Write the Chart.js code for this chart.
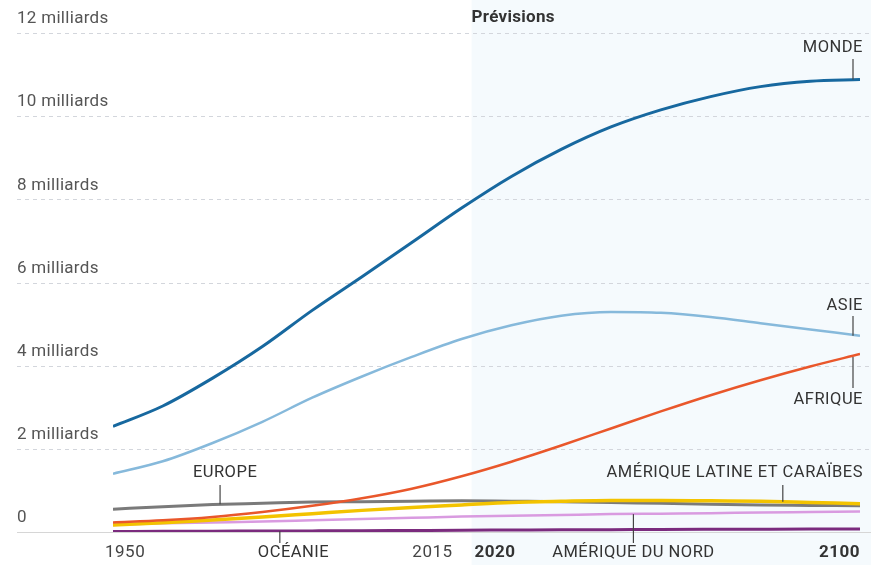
<!DOCTYPE html>
<html>
<head>
<meta charset="utf-8">
<script src="https://cdn.jsdelivr.net/npm/chart.js@4"></script>
<style>
  body { margin: 0; background: #fff; }
  canvas { display: block; }
</style>
</head>
<body>
<canvas id="popChart" width="871" height="565"></canvas>
<script>
// population in billions, every 10 years
var years = [1950, 1960, 1970, 1980, 1990, 2000, 2010, 2020, 2030, 2040, 2050, 2060, 2070, 2080, 2090, 2100];
var monde     = [2.54, 3.03, 3.70, 4.46, 5.33, 6.14, 6.96, 7.79, 8.55, 9.20, 9.74, 10.15, 10.47, 10.71, 10.84, 10.88];
var asie      = [1.40, 1.70, 2.14, 2.65, 3.23, 3.74, 4.21, 4.64, 4.97, 5.20, 5.29, 5.27, 5.17, 5.02, 4.87, 4.72];
var afrique   = [0.23, 0.28, 0.36, 0.48, 0.63, 0.81, 1.04, 1.34, 1.69, 2.08, 2.49, 2.90, 3.29, 3.65, 3.98, 4.28];
var europe    = [0.55, 0.61, 0.66, 0.69, 0.72, 0.73, 0.74, 0.75, 0.74, 0.73, 0.71, 0.69, 0.67, 0.65, 0.64, 0.63];
var ameriqueLatine = [0.17, 0.22, 0.29, 0.36, 0.44, 0.52, 0.59, 0.65, 0.71, 0.74, 0.76, 0.76, 0.75, 0.74, 0.71, 0.68];
var ameriqueNord   = [0.17, 0.21, 0.23, 0.25, 0.28, 0.31, 0.34, 0.37, 0.39, 0.41, 0.43, 0.44, 0.45, 0.47, 0.48, 0.49];
var oceanie   = [0.013, 0.016, 0.020, 0.023, 0.027, 0.031, 0.037, 0.043, 0.048, 0.053, 0.057, 0.061, 0.064, 0.067, 0.070, 0.075];

var yTicks = [0, 2, 4, 6, 8, 10, 12];
var yTickLabels = ['0', '2 milliards', '4 milliards', '6 milliards', '8 milliards', '10 milliards', '12 milliards'];
var forecastStart = 2022;

function pts(vals) {
    return years.map(function(y, i) { return {x: y, y: vals[i]}; });
}

function ds(label, vals, colour, width) {
    return {
        label: label,
        data: pts(vals),
        borderColor: colour,
        borderWidth: width,
        pointRadius: 0,
        fill: false,
        cubicInterpolationMode: 'monotone'
    };
}

var FONT = 'Roboto, "Noto Sans", sans-serif';

// shaded forecast zone, grid and all the text labels are drawn by hand
var decor = {
    id: 'decor',
    beforeDatasetsDraw: function(chart) {
        var ctx = chart.ctx, xs = chart.scales.x, ys = chart.scales.y;
        var W = chart.width, H = chart.height;
        ctx.save();
        var fx = xs.getPixelForValue(forecastStart);
        ctx.fillStyle = '#f5fafd';
        ctx.fillRect(fx, 0, W - fx, H);

        // dashed gridlines
        ctx.strokeStyle = '#d3d6dc';
        ctx.lineWidth = 1;
        ctx.setLineDash([4, 4]);
        yTicks.forEach(function(t) {
            if (t === 0) return;
            var y = Math.round(ys.getPixelForValue(t)) + 0.5;
            ctx.beginPath(); ctx.moveTo(17, y); ctx.lineTo(W, y); ctx.stroke();
        });
        ctx.setLineDash([]);
        var y0 = Math.round(ys.getPixelForValue(0)) + 0.5;
        ctx.strokeStyle = '#d6d6d6';
        ctx.beginPath(); ctx.moveTo(17, y0); ctx.lineTo(W, y0); ctx.stroke();

        // y labels
        ctx.fillStyle = '#555';
        ctx.font = '17px ' + FONT;
        ctx.letterSpacing = '0.3px';
        ctx.textAlign = 'left';
        ctx.textBaseline = 'middle';
        yTicks.forEach(function(t, i) {
            ctx.fillText(yTickLabels[i], 17, ys.getPixelForValue(t) - 14);
        });

        ctx.fillStyle = '#333';
        ctx.font = 'bold 17px ' + FONT;
        ctx.fillText('Prévisions', fx, 18);
        ctx.restore();
    },
    afterDatasetsDraw: function(chart) {
        var ctx = chart.ctx, xs = chart.scales.x, ys = chart.scales.y;
        ctx.save();
        ctx.strokeStyle = '#444';
        ctx.lineWidth = 1.2;
        ctx.letterSpacing = '0.5px';
        function tick(x, ya, yb) {
            ctx.beginPath(); ctx.moveTo(x, ya); ctx.lineTo(x, yb); ctx.stroke();
        }
        function label(txt, x, y, align, font, colour) {
            ctx.font = font || ('16.5px ' + FONT);
            ctx.fillStyle = colour || '#333';
            ctx.textAlign = align;
            ctx.textBaseline = 'middle';
            ctx.fillText(txt, x, y);
        }
        var xEnd = xs.getPixelForValue(2100);
        var xt = xEnd - 7;

        label('MONDE', xEnd + 3, 48, 'right');
        tick(xt, 59, ys.getPixelForValue(10.88));
        label('ASIE', xEnd + 3, 306, 'right');
        tick(xt, 316, ys.getPixelForValue(4.72));
        label('AFRIQUE', xEnd + 3, 400, 'right');
        tick(xt, ys.getPixelForValue(4.28) + 3, 388);

        var xe = xs.getPixelForValue(1971.5);
        label('EUROPE', xe + 5, 473, 'center');
        tick(xe, 485, ys.getPixelForValue(0.67));
        label('AMÉRIQUE LATINE ET CARAÏBES', xEnd + 3, 473, 'right');
        tick(xs.getPixelForValue(2084.5), 485, ys.getPixelForValue(0.73));

        var xo = xs.getPixelForValue(1983.5);
        tick(xo, ys.getPixelForValue(0.025), 543);
        label('OCÉANIE', xo - 22, 553, 'left');
        var xn = xs.getPixelForValue(2054.5);
        tick(xn, ys.getPixelForValue(0.43), 543);
        label('AMÉRIQUE DU NORD', xn, 553, 'center');

        // x labels
        var tf = '17px ' + FONT, bf = 'bold 17px ' + FONT;
        label('1950', xs.getPixelForValue(1950) - 8, 553, 'left', tf, '#444');
        label('2015', xs.getPixelForValue(forecastStart) - 19, 553, 'right', tf, '#444');
        label('2020', xs.getPixelForValue(forecastStart) + 3, 553, 'left', bf, '#333');
        label('2100', xEnd, 553, 'right', bf, '#333');
        ctx.restore();
    }
};

new Chart(document.getElementById('popChart'), {
    type: 'line',
    data: {
        datasets: [
            ds('Monde', monde, '#17689f', 3),
            ds('Asie', asie, '#86b9db', 2.5),
            ds('Afrique', afrique, '#e9572b', 2.5),
            ds('Amérique latine et Caraïbes', ameriqueLatine, '#f3c300', 3.5),
            ds('Europe', europe, '#7a7a7a', 3),
            ds('Amérique du Nord', ameriqueNord, '#d99be0', 2.5),
            ds('Océanie', oceanie, '#7b2b7e', 3)
        ]
    },
    options: {
        responsive: false,
        animation: false,
        devicePixelRatio: 1,
        layout: { padding: { left: 113, right: 11, top: 33, bottom: 33 } },
        plugins: { legend: { display: false }, tooltip: { enabled: false } },
        scales: {
            x: { type: 'linear', min: 1950, max: 2100, display: false },
            y: { min: 0, max: 12, display: false }
        }
    },
    plugins: [decor]
});
</script>
</body>
</html>
